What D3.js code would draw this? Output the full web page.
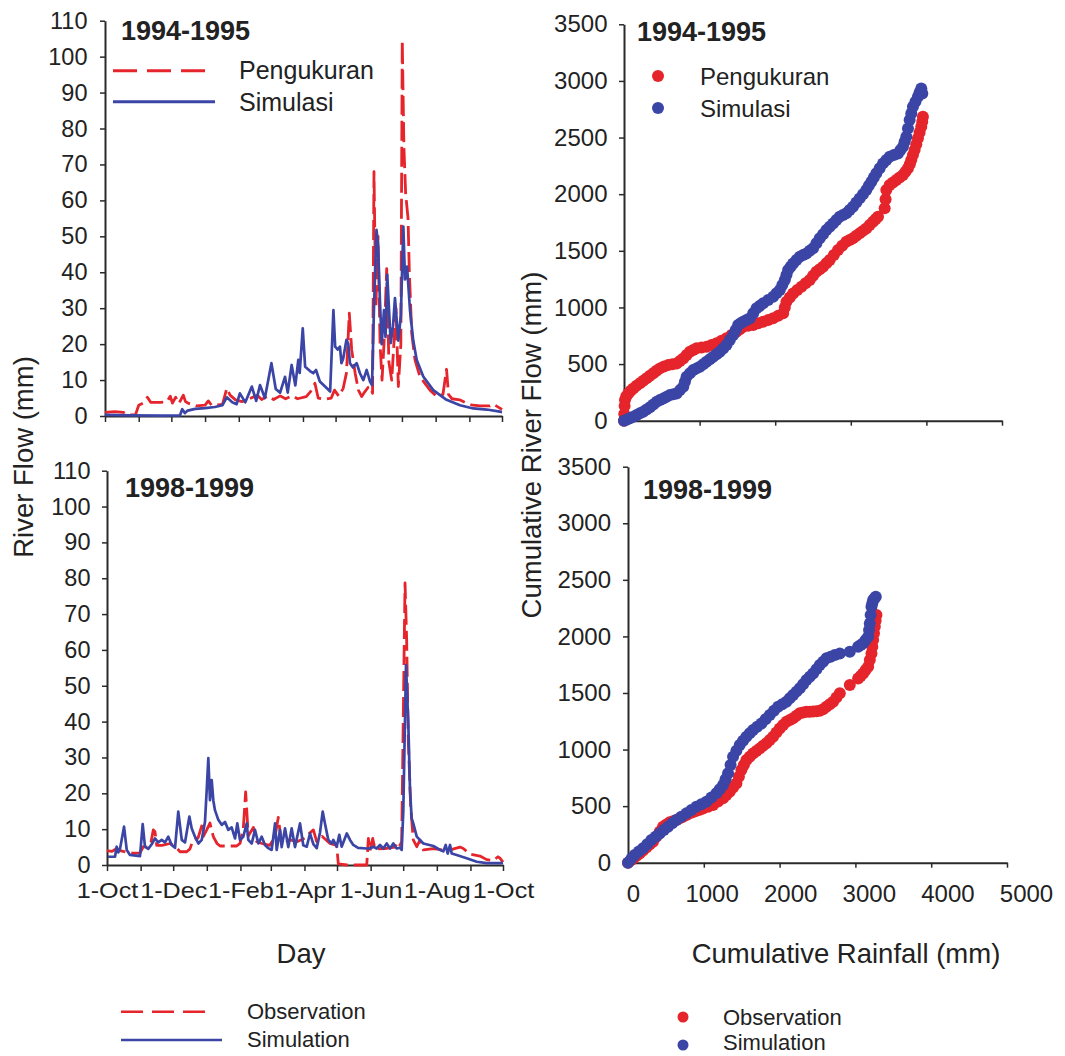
<!DOCTYPE html>
<html><head><meta charset="utf-8">
<script src="https://cdn.jsdelivr.net/npm/d3@7"></script>
<style>
body{margin:0;background:#fff}
svg{display:block;background:#fff}
text{font-family:'Liberation Sans',Arial,Helvetica,sans-serif;fill:#222}
</style>
</head><body>
<svg id="c" width="1065" height="1056"></svg>
<script>
// ---------------- DATA ----------------
// daily river flow (mm): [day since 1 Oct, value]
const obs9495 = [[0,1.0],[9,1.2],[17,1.0],[21,0.3],[28,0.3],[31,3.0],[35,3.6],[39,5.2],[42,3.8],[51,3.8],[57,4.0],[60,5.5],[62,3.6],[65,5.2],[68,3.5],[72,5.8],[74,4.0],[77,3.5],[84,2.8],[92,3.0],[95,4.2],[98,3.0],[108,3.2],[112,7.7],[115,5.8],[120,4.5],[126,4.0],[133,4.8],[140,5.8],[144,4.6],[150,5.6],[155,4.6],[161,5.6],[166,4.8],[172,5.6],[177,4.8],[185,5.4],[189,6.8],[193,9.1],[196,5.0],[202,4.6],[208,5.0],[211,7.2],[215,5.5],[219,7.7],[222,12],[224.6,28.6],[226.8,18.4],[230,11.9],[233,7.2],[236,5.4],[239,6.8],[242,8.0],[244,8.2],[246,6.3],[247.3,68],[249,30],[251,50],[252.9,20],[254.7,10],[256.5,20],[259,41],[261,15],[263.6,10],[266,22],[267.5,30],[269.7,8.2],[272,20],[273.3,104.5],[274.8,75],[276.4,62],[278.6,55],[279.8,40],[282,23],[285,15.6],[289.6,10.9],[298.8,7.2],[305,5.4],[310.7,6.0],[314,13],[315.8,6],[319,4.8],[326,4.5],[333,3.5],[338,3.0],[345,2.8],[354,2.8],[357,3.3],[363,2.2],[365,1.8]];
const sim9495 = [[0,0.3],[23,0.2],[51,0.1],[69,0.2],[71,1.9],[73.5,0.8],[76,1.5],[83,2.0],[92,2.2],[101,2.5],[108,3.0],[112,5.2],[117,3.8],[121,3.3],[124,6.3],[129,3.8],[135,8.2],[139,4.2],[142.5,8.6],[147,5.0],[153,14.7],[157,7.5],[161,6.5],[165.5,10.9],[168,6.5],[171.6,14.2],[175,8.5],[177.7,15.6],[179,12],[181.8,24.4],[184,13.7],[188.5,12.5],[191.5,11.9],[194,12.8],[197.5,9.6],[204,7.7],[207,6.8],[210,29.5],[211.6,19.3],[214,18.5],[216,19.3],[217.4,14.7],[219,16],[222,21.2],[223.7,20],[225.2,14.7],[228,13.5],[231.4,14.7],[234.4,11.9],[237.5,10.0],[240.6,12.8],[243.6,9.6],[245.5,8.6],[247.3,30],[249.6,51.8],[251,48],[252.8,32],[254.4,20],[256.5,29.5],[257.9,22],[259.5,39.3],[262.7,20.3],[264.8,25],[266.6,32.8],[269.7,21],[272,28],[274.3,52.7],[275.8,38],[277.7,41.6],[280.4,29.5],[283.4,21],[286.6,15.6],[292.6,11],[301.8,7.2],[314,4.5],[326.4,3.0],[338.6,2.1],[351,1.8],[363,1.2],[365,1.1]];
const obs9899 = [[0,4.0],[4.6,3.8],[8.9,4.6],[12,4.0],[17.5,3.6],[24,3.3],[30.4,3.3],[33.5,5.1],[37.8,5.0],[40.6,6.5],[42.7,9.8],[44.2,9.3],[45.8,5.5],[50.7,5.5],[58.1,6.0],[63.6,5.0],[67.3,3.7],[73.5,3.7],[76.5,4.5],[79.3,7.0],[83.9,7.5],[87.3,10.9],[88.8,8.0],[91.9,9.8],[94.9,11.7],[98,7.9],[101.4,6.0],[104.2,5.3],[119.5,5.3],[122.6,6.0],[125.6,10],[127.8,20.4],[130.2,8.1],[134.9,10.5],[138,6.5],[142.9,6.0],[150.2,5.5],[154.9,8.0],[157.9,13.3],[161,5.5],[168.7,7.0],[175.1,6.5],[182.5,7.5],[187.1,9.0],[190.2,9.8],[193.3,6.5],[198.2,8.0],[205.5,6.0],[211.7,5.5],[213.2,0.3],[221,0],[239.4,0],[240.9,7.4],[242.4,4.0],[244.9,7.4],[247,4.5],[256.2,4.6],[265.4,5.0],[268.2,6.5],[270.1,5.5],[271.6,6.5],[274.7,78.7],[276.2,62.8],[277.7,34.9],[279.9,16.3],[282.3,7.0],[285.5,5.1],[288.5,7.0],[291.6,4.2],[300.8,4.6],[310,4.2],[316.2,4.2],[325.4,5.0],[328.4,4.6],[334.6,3.0],[343.8,2.5],[350,1.5],[355.8,1.2],[360.4,2.3],[362.2,1.9],[365,0.8]];
const sim9899 = [[0.9,2.3],[7.4,2.3],[8.9,5.1],[10.4,3.5],[12,4.5],[15.7,10.7],[18.2,4.2],[21.2,2.8],[30.4,2.5],[32.9,11.4],[35,5.1],[38,4.5],[41.2,5.8],[44.2,7.4],[47.3,6.3],[50.4,7.0],[53.5,6.3],[56.5,7.9],[59.6,5.6],[62.7,4.8],[65.7,14.9],[68.9,7.0],[71.9,6.3],[75.9,13.5],[78.1,10.2],[81.1,7.9],[84.2,6.0],[87.3,7.0],[90.3,12],[91.9,20.9],[93.4,29.8],[94.9,18.1],[96.5,23.7],[98,18],[99.5,15.3],[102.6,12.6],[105.7,11.2],[108.8,12],[111.8,9.8],[114.9,10.5],[118,7.4],[120.1,11.6],[122.6,7.0],[125.6,7.9],[128.8,11.6],[130.2,7.0],[133.4,6.0],[136.4,9.8],[139.5,6.0],[142.6,7.9],[145.6,5.6],[148.7,4.7],[151.8,4.2],[154.9,11.6],[156.4,4.2],[159.5,9.8],[161,5.0],[164.1,10.2],[167.1,5.0],[170.2,10.2],[173.3,5.0],[177.9,11.6],[180.9,5.5],[184.1,5.1],[187.1,8.8],[190.2,5.8],[193.3,4.7],[196.3,9.0],[198.8,14.9],[200.9,11.6],[204,7.0],[207.1,6.0],[208.6,7.0],[211.7,5.1],[214.1,8.4],[216.3,5.1],[221,8.8],[224,7.0],[227,5.6],[231.4,4.8],[239.4,4.6],[242.4,4.6],[245.5,5.1],[248.6,4.6],[251.6,5.6],[254.7,4.6],[257.8,6.0],[260.9,4.6],[263.9,6.0],[267,4.6],[270.1,4.8],[271.6,4.2],[273.1,15],[275.6,55.8],[277.7,39.6],[279.3,21],[280.8,13],[282.3,11.6],[285.5,7.9],[291.6,6.0],[300.8,5.3],[307,4.2],[310,3.8],[312.2,5.6],[314,3.2],[316.2,5.6],[317.7,3.2],[322.3,2.8],[331.5,1.9],[340.8,0.9],[350,0.5],[362.2,0.5],[365,0.6]];

// cumulative rainfall (mm) vs cumulative river flow (mm)
const obsCum9495 = [[0,0],[3,60],[8,130],[13,182],[30,215],[57,241],[90,265],[123,285],[165,308],[211,330],[255,352],[299,374],[343,396],[387,418],[430,440],[476,462],[530,478],[586,491],[640,498],[696,506],[740,528],[784,550],[828,580],[872,609],[916,625],[960,639],[1026,646],[1092,653],[1158,668],[1224,683],[1290,705],[1356,727],[1422,757],[1488,786],[1532,808],[1576,830],[1642,838],[1709,845],[1775,860],[1841,874],[1907,889],[1973,904],[2040,926],[2105,948],[2127,1000],[2149,1051],[2193,1088],[2237,1124],[2292,1154],[2347,1183],[2402,1213],[2457,1242],[2501,1279],[2545,1316],[2589,1338],[2633,1360],[2677,1390],[2721,1419],[2776,1463],[2831,1507],[2886,1544],[2941,1580],[2985,1595],[3029,1610],[3073,1632],[3117,1654],[3161,1676],[3205,1698],[3250,1728],[3294,1757],[3330,1780],[3360,1801],[3448,1875],[3460,1955],[3470,2037],[3514,2081],[3558,2103],[3602,2125],[3646,2147],[3690,2169],[3723,2198],[3756,2228],[3780,2265],[3800,2301],[3822,2345],[3844,2390],[3866,2440],[3888,2493],[3910,2545],[3932,2596],[3945,2640],[3954,2684]];
const simCum9495 = [[0,0],[40,10],[79,21],[123,35],[167,50],[211,65],[255,79],[299,98],[343,118],[388,143],[432,168],[476,182],[520,197],[564,212],[608,227],[652,234],[696,241],[740,270],[784,300],[806,344],[828,388],[872,418],[916,447],[960,462],[1004,477],[1048,499],[1092,521],[1136,543],[1180,565],[1224,587],[1268,609],[1312,638],[1356,668],[1400,712],[1444,756],[1477,800],[1510,845],[1543,860],[1576,874],[1620,889],[1665,904],[1709,948],[1753,992],[1797,1014],[1841,1036],[1907,1066],[1973,1095],[2017,1125],[2061,1154],[2094,1198],[2127,1242],[2149,1286],[2171,1330],[2204,1360],[2237,1389],[2281,1419],[2325,1448],[2369,1463],[2413,1477],[2457,1500],[2501,1522],[2545,1566],[2589,1610],[2633,1647],[2677,1683],[2721,1713],[2765,1742],[2809,1772],[2853,1801],[2897,1816],[2941,1831],[2985,1860],[3029,1889],[3073,1926],[3117,1963],[3161,2000],[3205,2037],[3238,2074],[3272,2110],[3305,2147],[3338,2184],[3382,2228],[3426,2272],[3470,2302],[3514,2331],[3569,2345],[3624,2360],[3657,2390],[3690,2419],[3712,2463],[3734,2508],[3756,2580],[3778,2655],[3800,2713],[3822,2772],[3855,2816],[3888,2861],[3910,2897],[3932,2934],[3946,2890]];
const obsCum9899 = [[0,0],[40,22],[77,41],[115,61],[154,82],[198,108],[242,134],[286,160],[330,186],[374,230],[418,274],[462,318],[506,338],[550,357],[594,367],[638,377],[682,392],[726,407],[770,421],[814,436],[858,447],[902,458],[946,469],[990,480],[1056,495],[1122,510],[1188,540],[1254,569],[1298,598],[1342,628],[1386,665],[1430,701],[1463,760],[1496,819],[1529,863],[1562,907],[1606,937],[1650,966],[1694,988],[1738,1010],[1782,1033],[1826,1055],[1870,1085],[1914,1114],[1958,1150],[2002,1187],[2046,1217],[2090,1246],[2134,1261],[2178,1276],[2222,1298],[2266,1320],[2310,1328],[2354,1335],[2398,1335],[2442,1336],[2486,1338],[2530,1342],[2574,1357],[2618,1379],[2662,1401],[2706,1423],[2750,1460],[2794,1497],[2926,1570],[3036,1629],[3070,1651],[3102,1673],[3135,1703],[3168,1732],[3190,1791],[3212,1850],[3223,1909],[3234,1968],[3245,2027],[3256,2086],[3267,2138],[3278,2189]];
const simCum9899 = [[0,0],[44,34],[88,68],[143,98],[198,127],[253,164],[308,200],[363,230],[418,259],[473,289],[528,318],[583,348],[638,377],[704,407],[770,436],[836,466],[902,495],[968,517],[1034,539],[1100,576],[1166,613],[1210,650],[1254,686],[1287,738],[1320,790],[1353,864],[1386,937],[1430,989],[1474,1040],[1518,1077],[1562,1114],[1606,1144],[1650,1173],[1705,1202],[1760,1231],[1815,1268],[1870,1305],[1925,1342],[1980,1379],[2035,1401],[2090,1423],[2134,1453],[2178,1482],[2222,1512],[2266,1541],[2310,1578],[2354,1615],[2398,1644],[2442,1673],[2486,1710],[2530,1747],[2574,1777],[2618,1806],[2673,1821],[2728,1835],[2794,1850],[2926,1865],[3036,1909],[3070,1925],[3102,1939],[3135,1968],[3168,1998],[3180,2056],[3190,2115],[3201,2190],[3212,2263],[3223,2293],[3234,2322],[3252,2337],[3269,2351]];

const flowTicks = d3.range(0, 111, 10);
const cumFlowTicks = d3.range(0, 3501, 500);
const rainTicks = d3.range(0, 5001, 1000);
const periodLabels = ["1994-1995", "1998-1999"];
const legendID = ["Pengukuran", "Simulasi"];
const legendEN = ["Observation", "Simulation"];

// ---------------- STYLE ----------------
const RED = "#e5242b", BLUE = "#3b45a6", AX = "#2a2a2a";
const svg = d3.select("#c");
const intFmt = d3.format("d");

function styleAxis(g, fs) {
  g.select(".domain").attr("stroke", AX).attr("stroke-width", 2);
  g.selectAll(".tick line").attr("stroke", AX).attr("stroke-width", 1.5);
  g.selectAll(".tick text").attr("fill", "#222").attr("font-size", fs)
    .attr("font-family", "'Liberation Sans',Arial,sans-serif");
}

function flowPanel(c) {
  const x = d3.scaleUtc().domain([c.start, c.end]).range([c.x0, c.x1]);
  const y = d3.scaleLinear().domain([0, 110]).range([c.yb, c.yt]);
  const toDate = d => new Date(c.start.getTime() + d * 864e5);
  const months = d3.utcMonth.range(c.start, d3.utcDay.offset(c.end, 1));
  const fmt = d3.utcFormat("%b");
  const gx = svg.append("g").attr("transform", `translate(0,${c.yb})`)
    .call(d3.axisBottom(x).tickValues(months).tickSize(6).tickSizeOuter(0).tickPadding(12)
      .tickFormat((d, i) => c.labels && i % 2 === 0 ? "1-" + fmt(d) : ""));
  styleAxis(gx, 21.5);
  gx.selectAll(".tick text").attr("transform", "scale(1.17,1)");
  const gy = svg.append("g").attr("transform", `translate(${c.x0},0)`)
    .call(d3.axisLeft(y).tickValues(flowTicks).tickSize(5).tickSizeOuter(0).tickPadding(c.pad)
      .tickFormat(intFmt));
  styleAxis(gy, 23.5);
  const line = d3.line().x(d => x(toDate(d[0]))).y(d => y(d[1]));
  svg.append("path").datum(c.obs).attr("d", line).attr("fill", "none")
    .attr("stroke", RED).attr("stroke-width", 2.8).attr("stroke-dasharray", "20,6")
    .attr("stroke-linejoin", "round");
  svg.append("path").datum(c.sim).attr("d", line).attr("fill", "none")
    .attr("stroke", BLUE).attr("stroke-width", 2.7).attr("stroke-linejoin", "round");
  svg.append("text").attr("x", c.tx).attr("y", c.ty).attr("font-size", 27)
    .attr("font-weight", "bold").attr("fill", "#111").text(c.title);
}

function cumPanel(c) {
  const x = d3.scaleLinear().domain([0, 5000]).range([c.x0, c.x1]);
  const y = d3.scaleLinear().domain([0, 3500]).range([c.yb, c.yt]);
  const gx = svg.append("g").attr("transform", `translate(0,${c.yb})`)
    .call(d3.axisBottom(x).tickValues(rainTicks).tickSize(5).tickSizeOuter(0).tickPadding(17)
      .tickFormat(c.labels ? intFmt : () => ""));
  styleAxis(gx, 24);
  gx.selectAll(".tick text").attr("dx", (d, i) => 5 + i * 2.8);
  const gy = svg.append("g").attr("transform", `translate(${c.x0},0)`)
    .call(d3.axisLeft(y).tickValues(cumFlowTicks).tickSize(5).tickSizeOuter(0).tickPadding(c.pad)
      .tickFormat(intFmt));
  styleAxis(gy, 24);
  svg.append("g").selectAll("circle").data(c.obs).join("circle")
    .attr("cx", d => x(d[0])).attr("cy", d => y(d[1])).attr("r", 6).attr("fill", RED);
  svg.append("g").selectAll("circle").data(c.sim).join("circle")
    .attr("cx", d => x(d[0])).attr("cy", d => y(d[1])).attr("r", 6).attr("fill", BLUE);
  svg.append("text").attr("x", c.tx).attr("y", c.ty).attr("font-size", 27)
    .attr("font-weight", "bold").attr("fill", "#111").text(c.title);
}

flowPanel({start: new Date(Date.UTC(1994, 9, 1)), end: new Date(Date.UTC(1995, 9, 1)),
  x0: 105, x1: 502, yb: 416, yt: 20.7, pad: 12.5, labels: false,
  obs: obs9495, sim: sim9495, title: periodLabels[0], tx: 121, ty: 40});
flowPanel({start: new Date(Date.UTC(1998, 9, 1)), end: new Date(Date.UTC(1999, 9, 1)),
  x0: 107, x1: 503, yb: 865, yt: 470.7, pad: 11.5, labels: true,
  obs: obs9899, sim: sim9899, title: periodLabels[1], tx: 125, ty: 497});
cumPanel({x0: 624, x1: 1002, yb: 420.7, yt: 24.3, pad: 11.5, labels: false,
  obs: obsCum9495, sim: simCum9495, title: periodLabels[0], tx: 637, ty: 41});
cumPanel({x0: 628, x1: 1007, yb: 862.7, yt: 466.7, pad: 12, labels: true,
  obs: obsCum9899, sim: simCum9899, title: periodLabels[1], tx: 643, ty: 499});

// in-plot legends
svg.append("line").attr("x1", 113).attr("x2", 205).attr("y1", 70.7).attr("y2", 70.7)
  .attr("stroke", RED).attr("stroke-width", 3).attr("stroke-dasharray", "24,10");
svg.append("line").attr("x1", 113).attr("x2", 215).attr("y1", 101.7).attr("y2", 101.7)
  .attr("stroke", BLUE).attr("stroke-width", 3);
svg.append("text").attr("x", 239).attr("y", 79).attr("font-size", 25).text(legendID[0]);
svg.append("text").attr("x", 239).attr("y", 111).attr("font-size", 25).text(legendID[1]);
svg.append("circle").attr("cx", 658).attr("cy", 76).attr("r", 6).attr("fill", RED);
svg.append("circle").attr("cx", 658).attr("cy", 108).attr("r", 6).attr("fill", BLUE);
svg.append("text").attr("x", 700).attr("y", 85).attr("font-size", 24).text(legendID[0]);
svg.append("text").attr("x", 700).attr("y", 117).attr("font-size", 24).text(legendID[1]);

// axis titles
svg.append("text").attr("transform", "translate(33,457) rotate(-90)").attr("text-anchor", "middle")
  .attr("font-size", 27.5).text("River Flow (mm)");
svg.append("text").attr("transform", "translate(541,445) rotate(-90)").attr("text-anchor", "middle")
  .attr("font-size", 27.5).text("Cumulative River Flow (mm)");
svg.append("text").attr("x", 301).attr("y", 963).attr("text-anchor", "middle")
  .attr("font-size", 27.5).text("Day");
svg.append("text").attr("x", 846).attr("y", 963).attr("text-anchor", "middle")
  .attr("font-size", 27.5).text("Cumulative Rainfall (mm)");

// bottom legends
svg.append("line").attr("x1", 121).attr("x2", 212).attr("y1", 1011.7).attr("y2", 1011.7)
  .attr("stroke", RED).attr("stroke-width", 2.6).attr("stroke-dasharray", "22,9");
svg.append("line").attr("x1", 121).attr("x2", 222).attr("y1", 1040).attr("y2", 1040)
  .attr("stroke", BLUE).attr("stroke-width", 2.6);
svg.append("text").attr("x", 247).attr("y", 1019).attr("font-size", 22).text(legendEN[0]);
svg.append("text").attr("x", 247).attr("y", 1047).attr("font-size", 22).text(legendEN[1]);
svg.append("circle").attr("cx", 683).attr("cy", 1017).attr("r", 5.5).attr("fill", RED);
svg.append("circle").attr("cx", 683).attr("cy", 1045).attr("r", 5.5).attr("fill", BLUE);
svg.append("text").attr("x", 723).attr("y", 1025).attr("font-size", 22).text(legendEN[0]);
svg.append("text").attr("x", 723).attr("y", 1050).attr("font-size", 22).text(legendEN[1]);
</script>
</body></html>
